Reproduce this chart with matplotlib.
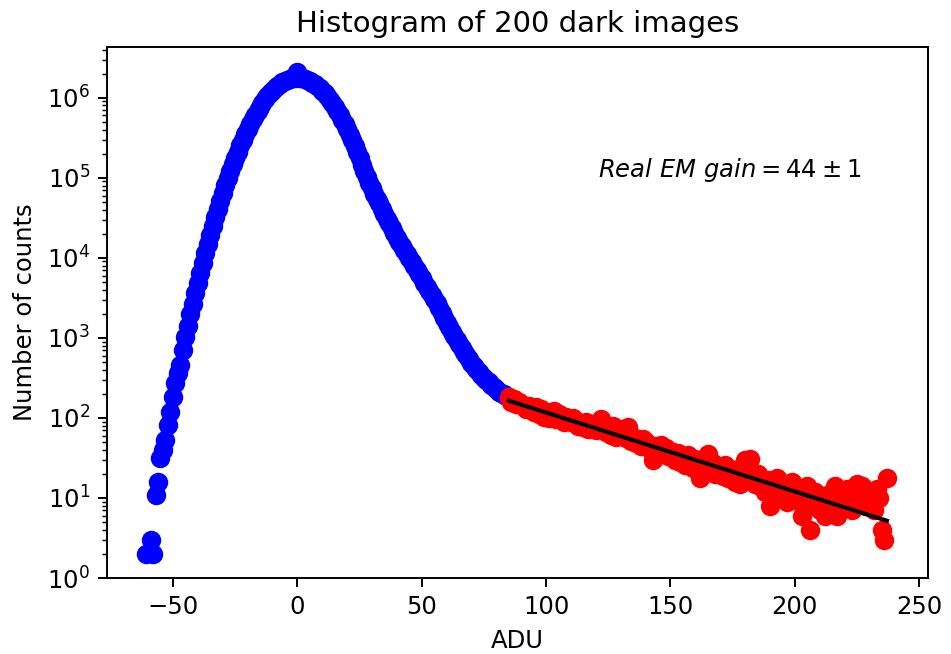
import numpy as np
from matplotlib import pyplot as plt

# histograma das imagens escuras (contagens por ADU)
adu_azul = list(range(-61, 85))
contagens_azul = [
    2, 0, 3, 2, 11, 16, 32, 40, 53, 82,
    118, 183, 275, 365, 460, 710, 1020, 1420, 1960, 2680,
    3630, 4900, 6550, 8710, 11500, 15000, 19500, 25100, 32200, 40900,
    51500, 64600, 80200, 99100, 121300, 147200, 177800, 212800, 253500, 299200,
    350000, 407400, 469900, 539500, 613800, 691800, 776200, 863000, 955000, 1047000,
    1138000, 1230000, 1318000, 1406000, 1486000, 1556000, 1622000, 1675000, 1722000, 1754000,
    1770000, 2100000, 1768000, 1752000, 1718000, 1670000, 1615000, 1548000, 1478000, 1398000,
    1310000, 1222000, 1130000, 1040000, 948000, 857000, 770000, 686000, 608000, 534000,
    464000, 402000, 345000, 295000, 250000, 210000, 175000, 143000, 120000, 102000,
    87100, 74100, 63100, 55000, 47900, 40700, 35500, 30900, 26900, 23400,
    20400, 17800, 15800, 14100, 12600, 11200, 10000, 8910, 7940, 7080,
    6310, 5560, 4900, 4370, 3890, 3470, 3020, 2690, 2340, 2040,
    1780, 1550, 1350, 1175, 1050, 933, 832, 741, 661, 603,
    537, 490, 447, 407, 372, 339, 316, 300, 280, 257,
    245, 229, 210, 204, 200, 186,
]

adu_verm = list(range(85, 238))
contagens_verm = [
    183, 160, 170, 150, 158,
    148, 140, 128, 142, 125,
    120, 136, 112, 128, 104,
    118, 100, 108, 121, 97,
    112, 98, 90, 104, 95,
    88, 100, 92, 80, 86,
    78, 90, 72, 82, 76,
    70, 84, 96, 74, 66,
    72, 62, 80, 58, 66,
    60, 72, 56, 78, 52,
    58, 48, 55, 44, 54,
    50, 46, 40, 30, 44,
    38, 46, 36, 42, 33,
    34, 38, 30, 36, 28,
    32, 26, 34, 28, 24,
    31, 22, 18, 28, 25,
    35, 24, 27, 20, 22,
    24, 19, 26, 18, 20,
    22, 16, 23, 15, 24,
    30, 18, 31, 17, 15,
    20, 14, 16, 12, 17,
    8, 15, 12, 18, 13,
    11, 14, 9, 12, 16,
    11, 13, 9, 6, 10,
    14, 4, 8, 12, 10,
    7, 9, 6, 11, 8,
    10, 14, 6, 12, 8,
    9, 13, 11, 7, 12,
    15, 10, 14, 8, 11,
    9, 12, 7, 13, 10,
    4, 3, 18,
]

# ajuste exponencial da cauda: N = A * exp(-ADU / ganho)
ganho = 44
ganho_erro = 1
amplitude = 1133

x_azul = np.array(adu_azul)
y_azul = np.array(contagens_azul, dtype=float)
mask = y_azul > 0
x_verm = np.array(adu_verm)
y_verm = np.array(contagens_verm, dtype=float)
x_fit = np.array([x_verm.min(), x_verm.max()])
y_fit = amplitude * np.exp(-x_fit / ganho)

fig, ax = plt.subplots(figsize=(951/175, 654/175), dpi=175)
ax.plot(x_azul[mask], y_azul[mask], 'bo', ms=7)
ax.plot(x_verm, y_verm, 'ro', ms=7)
ax.plot(x_fit, y_fit, 'k-', lw=1.7)
ax.set_yscale('log')
ax.set_ylim(1, 4.3e6)
ax.set_xlim(-76.5, 253.5)
ax.set_xlabel("ADU")
ax.set_ylabel("Number of counts")
ax.set_title("Histogram of 200 dark images")
ax.text(121, 1.26e5, r"$Real\ EM\ gain = %d \pm %d$" % (ganho, ganho_erro),
        fontsize=10, ha='left', va='center')
fig.subplots_adjust(left=0.1125, right=0.9758, top=0.9281, bottom=0.1162)
plt.savefig("out.png", dpi=175)
